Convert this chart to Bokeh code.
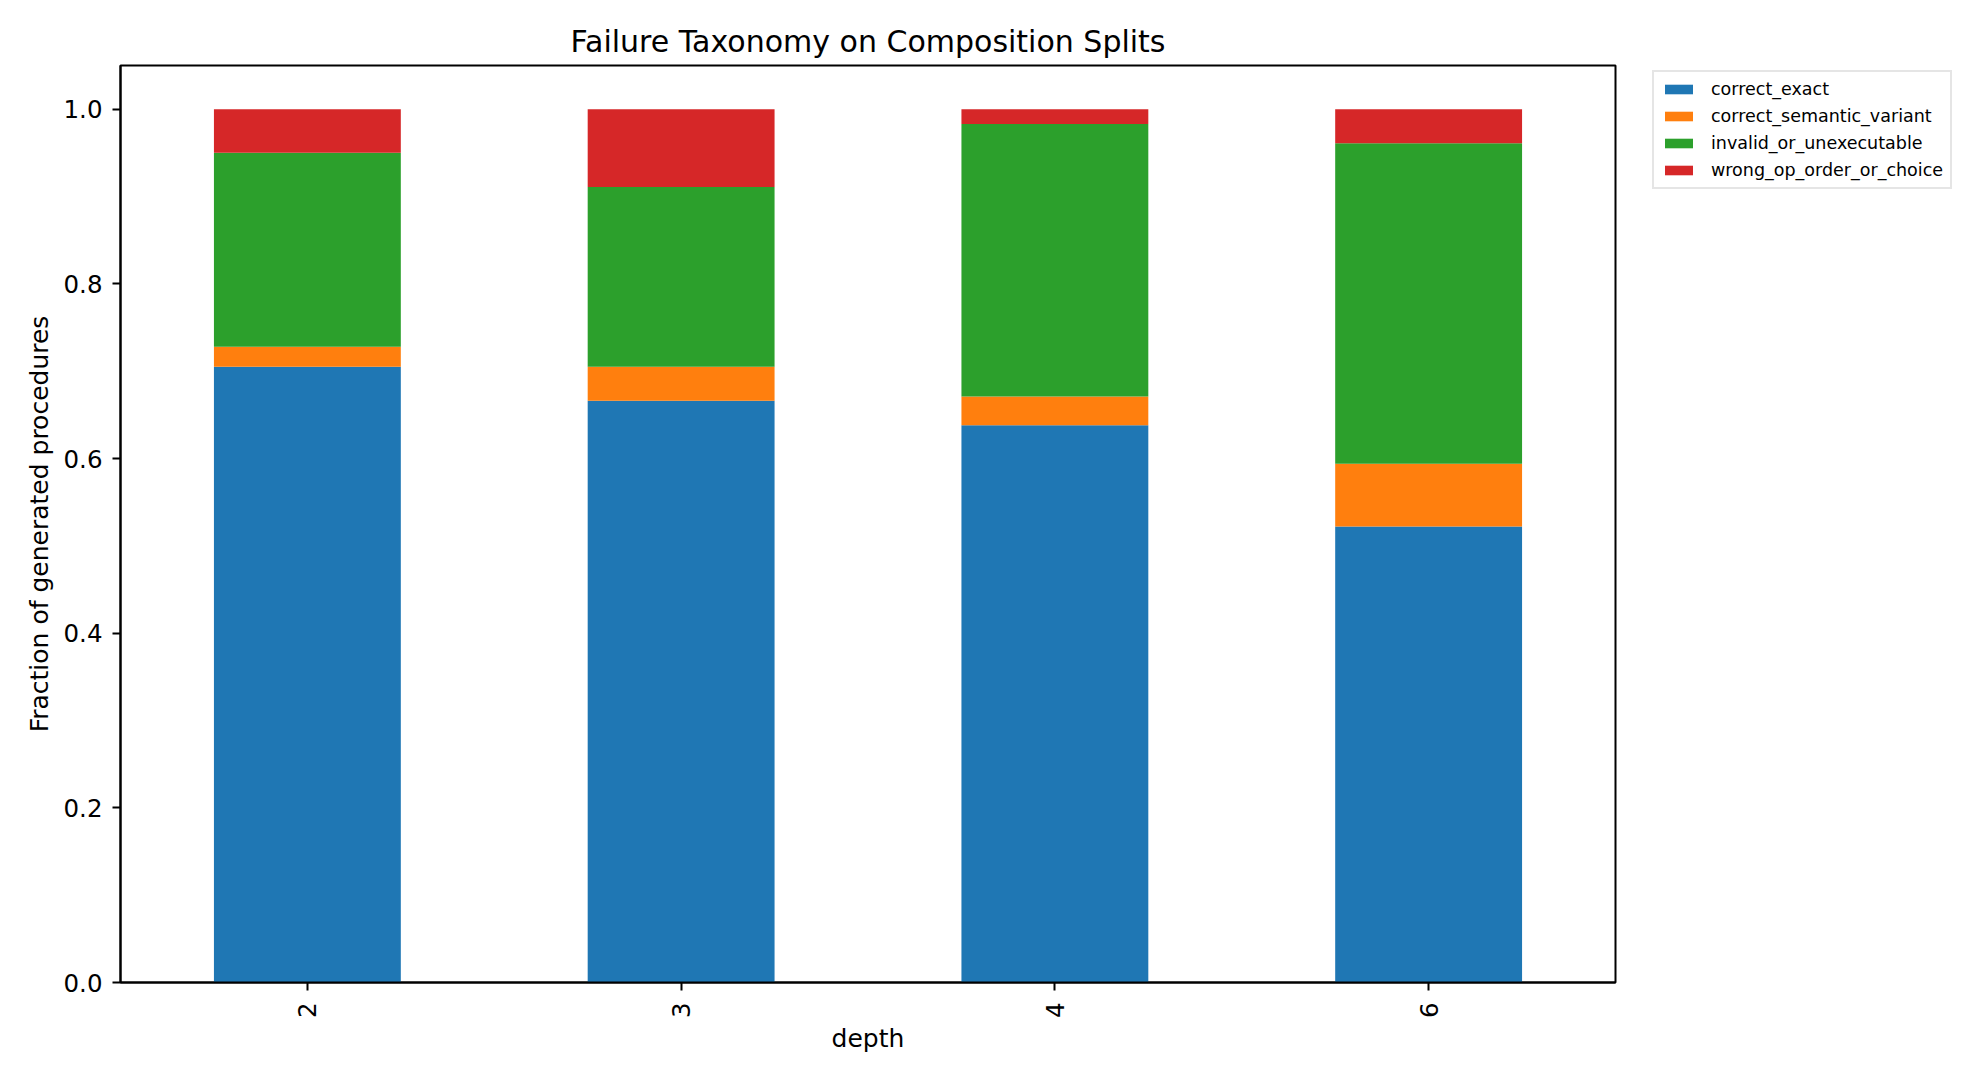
import math

from bokeh.plotting import figure
from bokeh.models import ColumnDataSource, FactorRange, Range1d, Legend, LegendItem, FixedTicker, NumeralTickFormatter
from bokeh.embed import file_html
from bokeh.resources import INLINE

# data
depths = ["2", "3", "4", "6"]
correct_exact = [0.705, 0.666, 0.638, 0.522]
correct_semantic_variant = [0.023, 0.039, 0.033, 0.072]
invalid_or_unexecutable = [0.222, 0.206, 0.312, 0.367]
wrong_op_order_or_choice = [0.050, 0.089, 0.017, 0.039]
categories = ["correct_exact", "correct_semantic_variant", "invalid_or_unexecutable", "wrong_op_order_or_choice"]
colors = ["#1f77b4", "#ff7f0e", "#2ca02c", "#d62728"]
y_ticks = [0.0, 0.2, 0.4, 0.6, 0.8, 1.0]

source = ColumnDataSource(dict(
    depth=depths,
    correct_exact=correct_exact,
    correct_semantic_variant=correct_semantic_variant,
    invalid_or_unexecutable=invalid_or_unexecutable,
    wrong_op_order_or_choice=wrong_op_order_or_choice,
))

FONT = "DejaVu Sans"

p = figure(x_range=FactorRange(*depths), y_range=Range1d(0, 1.05),
           frame_width=1495, frame_height=917,
           min_border_left=120, min_border_top=65, min_border_bottom=78, min_border_right=345,
           title="Failure Taxonomy on Composition Splits",
           output_backend="svg", toolbar_location=None, tools="")

renderers = p.vbar_stack(categories, x="depth", width=0.5, source=source,
                         fill_color=colors, line_color=None)

# look of the frame
p.background_fill_color = "white"
p.border_fill_color = "white"
p.outline_line_color = "black"
p.outline_line_width = 2
p.outline_line_alpha = 1
p.xgrid.visible = False
p.ygrid.visible = False

p.title.align = "center"
p.title.text_font = FONT
p.title.text_font_size = "30px"
p.title.text_font_style = "normal"
p.title.text_color = "black"
p.title.standoff = 13

for ax in (p.xaxis[0], p.yaxis[0]):
    ax.axis_line_width = 2
    ax.axis_line_color = "black"
    ax.major_tick_line_width = 2
    ax.major_tick_line_color = "black"
    ax.major_tick_out = 8
    ax.major_tick_in = 0
    ax.minor_tick_out = 0
    ax.minor_tick_in = 0
    ax.major_label_text_font = FONT
    ax.major_label_text_font_size = "24.5px"
    ax.major_label_text_color = "black"
    ax.axis_label_text_font = FONT
    ax.axis_label_text_font_size = "25px"
    ax.axis_label_text_font_style = "normal"
    ax.axis_label_text_color = "black"

p.xaxis.axis_label = "depth"
p.xaxis.major_label_orientation = math.pi / 2
p.xaxis.major_label_standoff = 12
p.xaxis.axis_label_standoff = 3

p.yaxis.axis_label = "Fraction of generated procedures"
p.yaxis.ticker = FixedTicker(ticks=y_ticks)
p.yaxis.formatter = NumeralTickFormatter(format="0.0")
p.yaxis.major_label_standoff = 10
p.yaxis.axis_label_standoff = 7

items = [LegendItem(label=c, renderers=[r]) for c, r in zip(categories, renderers)]
legend = Legend(items=items, location=(37, 793), orientation="vertical",
                label_text_font=FONT, label_text_font_size="17.5px",
                label_text_color="black",
                glyph_width=35, glyph_height=12, label_height=20, spacing=7,
                padding=7, label_standoff=15, margin=0,
                border_line_color="#cccccc", border_line_width=2,
                background_fill_alpha=0.8)
p.add_layout(legend, "right")

open("out.html", "w").write(file_html(p, INLINE))
